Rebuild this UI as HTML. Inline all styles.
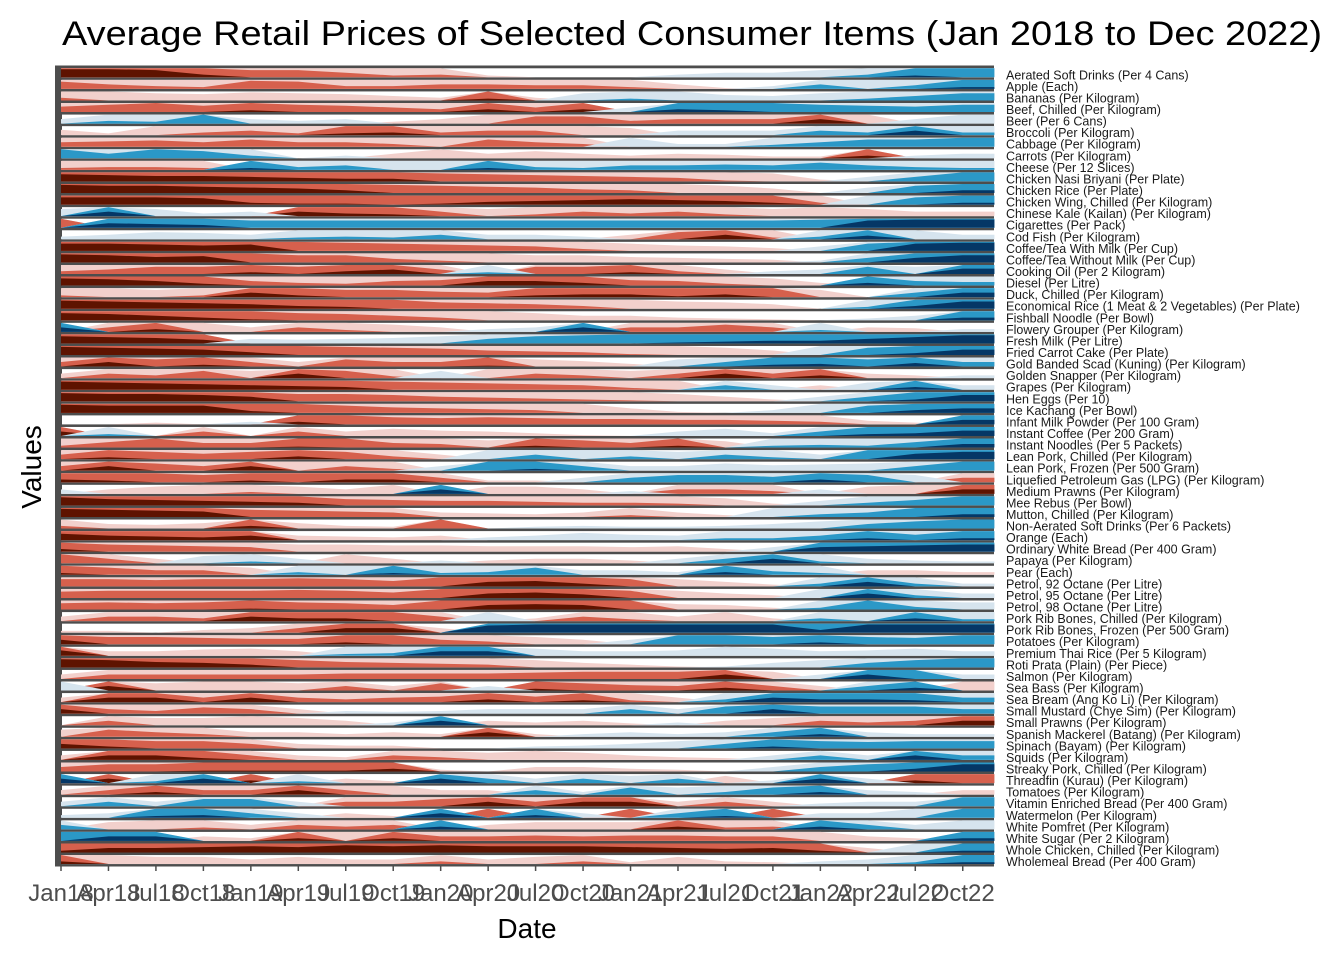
<!DOCTYPE html>
<html><head><meta charset="utf-8"><style>
html,body{margin:0;padding:0;background:#fff;}
svg{display:block;font-family:"Liberation Sans",Arial,sans-serif;}
</style></head><body>
<svg id="chart" width="1344" height="960" viewBox="0 0 1344 960" xmlns="http://www.w3.org/2000/svg">
<rect x="0" y="0" width="1344" height="960" fill="#fff"/>
<text x="62" y="45" font-size="34" fill="#000" textLength="1260" lengthAdjust="spacingAndGlyphs">Average Retail Prices of Selected Consumer Items (Jan 2018 to Dec 2022)</text>
<text x="0" y="0" font-size="28" fill="#000" text-anchor="middle" transform="translate(41,467) rotate(-90)">Values</text>
<text x="527" y="938" font-size="28" fill="#000" text-anchor="middle">Date</text>
<g id="plot"></g>
<g id="xaxis"></g>
<g id="labels"></g>
</svg>
<script>
const rowNames = ["Aerated Soft Drinks (Per 4 Cans)","Apple (Each)","Bananas (Per Kilogram)","Beef, Chilled (Per Kilogram)","Beer (Per 6 Cans)","Broccoli (Per Kilogram)","Cabbage (Per Kilogram)","Carrots (Per Kilogram)","Cheese (Per 12 Slices)","Chicken Nasi Briyani (Per Plate)","Chicken Rice (Per Plate)","Chicken Wing, Chilled (Per Kilogram)","Chinese Kale (Kailan) (Per Kilogram)","Cigarettes (Per Pack)","Cod Fish (Per Kilogram)","Coffee/Tea With Milk (Per Cup)","Coffee/Tea Without Milk (Per Cup)","Cooking Oil (Per 2 Kilogram)","Diesel (Per Litre)","Duck, Chilled (Per Kilogram)","Economical Rice (1 Meat & 2 Vegetables) (Per Plate)","Fishball Noodle (Per Bowl)","Flowery Grouper (Per Kilogram)","Fresh Milk (Per Litre)","Fried Carrot Cake (Per Plate)","Gold Banded Scad (Kuning) (Per Kilogram)","Golden Snapper (Per Kilogram)","Grapes (Per Kilogram)","Hen Eggs (Per 10)","Ice Kachang (Per Bowl)","Infant Milk Powder (Per 100 Gram)","Instant Coffee (Per 200 Gram)","Instant Noodles (Per 5 Packets)","Lean Pork, Chilled (Per Kilogram)","Lean Pork, Frozen (Per 500 Gram)","Liquefied Petroleum Gas (LPG) (Per Kilogram)","Medium Prawns (Per Kilogram)","Mee Rebus (Per Bowl)","Mutton, Chilled (Per Kilogram)","Non-Aerated Soft Drinks (Per 6 Packets)","Orange (Each)","Ordinary White Bread (Per 400 Gram)","Papaya (Per Kilogram)","Pear (Each)","Petrol, 92 Octane (Per Litre)","Petrol, 95 Octane (Per Litre)","Petrol, 98 Octane (Per Litre)","Pork Rib Bones, Chilled (Per Kilogram)","Pork Rib Bones, Frozen (Per 500 Gram)","Potatoes (Per Kilogram)","Premium Thai Rice (Per 5 Kilogram)","Roti Prata (Plain) (Per Piece)","Salmon (Per Kilogram)","Sea Bass (Per Kilogram)","Sea Bream (Ang Ko Li) (Per Kilogram)","Small Mustard (Chye Sim) (Per Kilogram)","Small Prawns (Per Kilogram)","Spanish Mackerel (Batang) (Per Kilogram)","Spinach (Bayam) (Per Kilogram)","Squids (Per Kilogram)","Streaky Pork, Chilled (Per Kilogram)","Threadfin (Kurau) (Per Kilogram)","Tomatoes (Per Kilogram)","Vitamin Enriched Bread (Per 400 Gram)","Watermelon (Per Kilogram)","White Pomfret (Per Kilogram)","White Sugar (Per 2 Kilogram)","Whole Chicken, Chilled (Per Kilogram)","Wholemeal Bread (Per 400 Gram)"];
const tickLabels = ["Jan18","Apr18","Jul18","Oct18","Jan19","Apr19","Jul19","Oct19","Jan20","Apr20","Jul20","Oct20","Jan21","Apr21","Jul21","Oct21","Jan22","Apr22","Jul22","Oct22"];
const s00=[2.9,2.9,2.8,2.3,1.8,1.8,1.5,1.2,1.3,0.2,0,0,0,-0.3,-0.5,-0.5,-0.8,-1.3,-2.2,-2.0];
const s01=[1.8,1.5,1.3,1.2,1.9,1.8,1.3,1.3,1.5,1.5,1.4,1.4,1.2,0.5,0.1,-0.3,-1.5,-1.0,-1.4,-2.2];
const s02=[1.3,1.0,0.8,0.7,0.9,0.8,0.7,0.5,0.3,2.2,0.3,-0.8,-1.2,-1.0,-0.6,-0.5,-0.8,-1.2,-1.5,-1.8];
const s03=[1.6,1.8,2.0,1.7,2.2,1.8,1.7,1.5,1.3,2.3,1.5,2.3,-0.5,-2.3,-2.2,-2.0,-1.8,-1.7,-1.6,-1.8];
const s04=[-0.5,-1.3,-1.2,-2.0,-0.5,-0.3,-0.5,0.2,0.5,1.0,1.8,1.8,1.3,1.5,1.5,1.5,2.5,1.0,-0.5,-1.0];
const s05=[0.6,0.2,1.0,1.3,1.5,1.2,2.2,2.3,1.3,1.5,1.5,1.0,0.8,-0.5,-0.5,-0.5,-1.5,-1.3,-2.5,-1.3];
const s06=[1.5,1.6,1.7,1.5,1.8,1.5,1.5,1.3,1.0,1.8,1.5,1.3,-1.0,-0.3,-0.3,-1.2,-1.5,-1.8,-1.8,-2.0];
const s07=[-2.0,-1.5,-2.0,-1.8,-1.3,0,-0.3,0.5,1.0,0.5,0.8,0.5,0.3,0.5,0.4,0.2,0.2,2.3,-0.3,-0.5];
const s08=[1.2,1.3,1.3,1.2,-2.2,-1.3,-1.5,-1.0,-1.0,-2.2,-1.3,-1.2,-1.5,-1.5,-1.6,-1.5,-1.8,-1.5,-1.3,-1.2];
const s09=[2.8,2.7,2.6,2.6,2.5,2.4,2.3,2.3,1.9,1.8,1.7,1.6,1.5,1.4,1.1,0.9,0.2,-0.5,-1.5,-2.0];
const s10=[2.9,2.8,2.8,2.7,2.6,2.5,2.3,1.9,1.8,1.7,1.6,1.4,1.3,1.0,0.8,0.5,0,-0.6,-1.8,-2.3];
const s11=[2.8,2.8,2.8,2.7,2.2,2.1,2.1,2.0,2.1,2.3,2.4,2.5,2.6,2.5,2.4,2.2,1.2,-1.0,-1.8,-2.2];
const s12=[-0.8,-2.5,-0.8,-0.3,-0.5,2.5,2.3,2.2,1.5,0.8,1.2,1.5,1.3,1.5,1.2,0.8,1.0,0.8,0.5,0.5];
const s13=[2.0,-2.5,-2.4,-2.3,-1.8,-1.8,-1.8,-1.8,-1.8,-1.8,-1.8,-1.8,-1.8,-1.8,-1.8,-1.8,-1.9,-2.8,-2.9,-2.9];
const s14=[-0.3,-0.5,-0.8,-0.7,-0.5,-1.2,-1.3,-1.2,-1.5,-0.5,-0.5,-0.3,0.5,1.8,2.5,1.2,-1.3,-2.4,-1.0,-0.5];
const s15=[2.8,2.8,2.7,2.6,2.7,2.0,1.9,1.8,1.7,1.6,1.5,1.2,0.8,0.6,0.5,0.3,-0.5,-1.8,-2.8,-2.9];
const s16=[2.9,2.8,2.6,2.7,2.0,1.8,1.8,1.4,1.2,1.0,0.8,0.8,0.6,0.5,0.4,0.3,-0.2,-1.5,-2.5,-2.8];
const s17=[1.3,1.5,1.8,1.8,2.2,1.8,2.3,2.5,1.5,-1.2,1.8,1.8,2.2,1.3,0.5,-0.3,-0.5,-1.8,-0.8,-2.6];
const s18=[2.8,2.7,2.5,2.2,1.5,1.3,1.2,1.5,1.6,2.5,2.5,2.3,1.6,1.5,1.2,0.8,0.3,-2.3,-1.5,-1.4];
const s19=[1.2,1.0,0.8,1.2,2.5,2.2,1.8,1.8,1.6,1.5,2.2,2.3,2.3,2.1,2.3,2.0,0.8,0,-1.5,-2.5];
const s20=[2.9,2.8,2.7,2.6,2.5,2.3,2.2,2.0,1.7,1.6,1.5,1.3,1.0,0.8,0.7,0.5,0,-1.2,-2.3,-2.8];
const s21=[2.8,2.7,2.5,2.3,2.1,1.8,1.7,1.5,1.3,1.0,0.8,0.5,0.5,0.3,0.2,0.1,0,-0.2,-0.5,-2.3];
const s22=[-2.5,1.5,2.3,1.0,0.5,1.5,1.2,0.8,0.5,-0.3,-0.5,-2.5,1.5,1.5,1.8,1.5,-1.2,0.5,0.4,-0.3];
const s23=[2.8,2.7,2.6,2.4,-0.5,-0.4,-0.5,-0.6,-0.8,-1.5,-1.8,-1.9,-2.0,-2.1,-2.2,-2.3,-2.3,-2.5,-2.7,-2.9];
const s24=[2.9,2.8,2.7,2.6,2.3,2.0,1.9,1.8,1.7,1.5,1.4,1.3,1.1,1.0,0.8,0.5,-1.0,-1.8,-2.2,-2.6];
const s25=[1.5,2.5,1.8,2.2,1.5,0.5,1.8,1.5,1.5,2.1,0.8,0.6,0.3,-0.8,-1.5,-2.2,-2.3,-1.8,-2.4,-1.5];
const s26=[0.5,1.5,1.3,1.8,0.8,2.5,1.8,1.2,-0.8,1.0,1.5,1.3,0.8,1.5,2.5,1.5,2.3,0.5,0.3,-0.3];
const s27=[2.9,2.8,2.7,2.6,2.5,2.4,2.3,1.9,1.8,1.7,1.6,1.5,1.2,1.0,-1.5,-0.5,0.5,-0.8,-2.3,-0.5];
const s28=[2.9,2.8,2.8,2.7,2.5,1.8,1.8,1.7,1.5,1.4,1.3,1.2,1.1,0.8,0.5,0.2,-0.5,-1.5,-2.2,-2.7];
const s29=[2.9,2.8,2.8,2.8,2.2,2.0,1.8,1.6,1.5,1.4,1.3,1.0,0.5,0.1,0,-0.3,-1.0,-1.8,-2.3,-2.5];
const s30=[0,0,0.2,0,-0.3,2.3,2.0,1.8,1.7,1.8,1.7,1.6,1.6,1.5,1.5,1.4,1.3,0.4,0.2,-2.5];
const s31=[2.5,-1.2,0,1.5,0,1.5,0.5,0.8,0.6,0.5,0.3,0.1,0,-0.5,-0.8,-0.3,-1.5,-2.2,-2.3,-2.6];
const s32=[1.2,1.6,2.0,1.5,1.5,2.1,2.0,1.5,1.4,0.8,2.2,1.8,1.5,2.2,0.7,-1.2,-1.3,-1.2,-1.6,-2.4];
const s33=[1.5,2.2,1.8,1.6,1.8,2.3,1.8,1.3,0.5,-1.0,-1.5,-1.0,-1.3,-0.8,-1.5,-1.2,-0.5,-2.0,-2.6,-2.8];
const s34=[1.5,2.5,1.8,1.5,2.5,1.0,1.5,1.2,-0.5,-2.0,-2.2,-1.5,-0.5,-0.5,-0.8,-0.6,-0.7,-0.8,-1.5,-2.0];
const s35=[2.3,2.2,2.0,1.8,2.2,2.0,2.3,2.3,1.5,0.2,0.2,-0.5,-1.5,-1.8,-1.8,-1.6,-2.3,-1.8,-0.8,1.5];
const s36=[-0.5,0.5,0.8,1.0,1.2,0.8,0.5,1.0,-2.5,0.8,0.8,0.5,-0.3,1.5,1.5,1.3,-0.5,0.8,1.0,2.5];
const s37=[2.9,2.7,2.6,2.5,2.4,2.3,1.7,1.6,1.5,1.5,1.4,1.3,1.3,1.2,0.8,0.2,-0.5,-1.3,-1.6,-2.0];
const s38=[2.9,2.8,2.7,2.6,1.8,1.7,1.6,1.5,0.5,0.4,0.3,0.5,1.2,0.5,0.2,-1.0,-1.3,-1.5,-2.0,-2.3];
const s39=[1.3,0.5,0.4,0.6,2.3,0.6,0.3,0.2,2.0,0,-0.2,-0.3,-0.2,-0.2,-0.3,-0.5,-0.8,-1.5,-1.8,-2.0];
const s40=[2.7,2.5,2.4,2.3,2.5,0.5,0.4,0.3,0.5,-0.3,-0.5,-0.8,-0.6,-0.5,-1.2,-1.2,-1.5,-2.2,-1.6,-2.2];
const s41=[2.3,1.8,1.7,1.6,1.5,0.8,0.8,0.7,0.7,0.6,0.6,0.6,0.5,0.6,0.3,-0.5,-2.5,-2.6,-2.7,-2.8];
const s42=[2.0,1.5,0.5,-0.8,-1.2,-0.5,1.0,0.5,-0.3,0.3,0.5,0.5,0.3,-0.5,-1.5,-2.5,-1.2,-0.5,-0.3,-0.2];
const s43=[2.2,1.8,1.5,1.5,0.8,-1.3,-1.0,-2.2,-1.2,-1.3,-1.8,-0.5,-0.5,-0.3,-2.3,-1.4,-1.2,0.5,0.5,0.3];
const s44=[1.8,1.8,1.7,1.8,1.8,1.9,1.8,1.6,2.0,2.5,2.6,2.3,1.8,0.8,0.5,0.2,-1.3,-2.5,-1.3,-0.3];
const s45=[1.7,1.8,1.8,1.8,1.8,1.9,1.8,1.6,2.0,2.5,2.6,2.4,1.8,0.8,0.5,0.3,-1.0,-2.5,-1.3,-0.5];
const s46=[1.7,1.8,1.7,1.8,2.1,1.8,1.7,1.5,2.0,2.5,2.6,2.5,2.0,0.6,0.5,0.2,-1.2,-2.0,-1.3,-0.8];
const s47=[0.5,1.5,1.5,1.3,2.5,2.3,2.3,2.0,1.5,-1.0,0.3,1.5,1.2,0.5,1.0,0.3,-1.3,-1.0,-2.3,-1.2];
const s48=[0.2,0.2,0,0.3,0.5,1.5,2.5,2.5,0.5,-2.8,-2.9,-2.9,-2.9,-2.9,-2.9,-2.9,-2.3,-2.9,-2.9,-2.9];
const s49=[2.5,1.8,1.8,1.7,1.6,1.6,2.2,2.0,1.5,1.3,0.8,0.5,-0.5,-2.0,-2.0,-1.8,-2.2,-1.8,-1.7,-2.0];
const s50=[2.6,0.5,0.5,0.7,0.8,0.5,-1.2,-1.3,-2.5,-2.5,-0.8,-0.5,-0.5,-0.6,-1.0,-0.8,-0.5,-0.6,-0.8,-0.5];
const s51=[2.9,2.8,2.6,2.5,2.3,1.8,1.6,1.5,1.4,1.3,0.8,0.5,0.3,0.1,-0.1,-0.5,-0.8,-1.5,-1.8,-2.0];
const s52=[0.5,1.5,1.5,1.5,1.5,1.5,1.6,1.6,1.6,1.6,1.7,1.8,1.8,1.8,2.5,0.8,-0.5,-2.5,-2.0,-0.5];
const s53=[-1.0,2.5,0.8,1.0,1.0,0.8,1.5,0.5,1.8,-0.5,2.2,1.8,1.6,1.5,2.3,1.5,0.5,-1.5,-2.3,1.0];
const s54=[0.5,2.5,2.5,1.5,2.5,1.5,1.3,1.5,1.6,2.3,1.6,2.2,1.2,0.5,-1.3,-2.5,-2.3,-2.3,-2.2,-1.5];
const s55=[2.5,1.5,1.3,1.7,1.5,0.5,-0.3,-0.2,-0.3,-0.5,-0.5,-0.5,-1.5,-0.5,-1.8,-2.5,-1.8,-1.8,-1.8,-1.5];
const s56=[0,1.5,0.8,0.8,1.0,0.8,0.5,-0.3,-2.5,0.5,0.3,0.5,0.2,-0.3,0.5,0.8,1.5,1.3,1.5,2.5];
const s57=[0.8,1.8,1.5,1.3,0.5,0.5,0.3,0.5,0.3,2.5,0.3,-0.3,-0.5,-0.3,-0.5,-1.5,-2.3,-0.5,-0.3,-0.3];
const s58=[2.5,2.2,1.8,1.8,1.5,0.5,0.3,0.3,0,0,-0.2,-0.3,-0.5,-0.8,-1.5,-2.2,-1.8,-1.7,-1.8,-1.8];
const s59=[0.5,2.5,2.5,2.2,1.5,0.5,0.3,1.5,1.3,0.8,1.0,0.8,0.5,0.3,0.2,-0.5,-1.5,-0.5,-2.5,-1.5];
const s60=[1.5,1.8,1.8,2.1,2.1,2.1,2.1,2.3,0.2,0,0.5,0.5,0.3,0.2,0,-0.5,-1.5,-1.8,-2.3,-2.8];
const s61=[-2.5,2.5,-1.2,-2.5,2.3,-1.2,0.5,0.2,-2.5,-1.5,-0.5,-1.5,-0.8,-1.5,0.8,-0.3,-2.5,-0.5,2.3,2.0];
const s62=[0.5,1.5,2.3,1.5,1.5,2.5,1.5,1.0,0.5,0.5,-1.5,-0.3,-1.8,-0.8,-1.3,-1.8,-2.3,-0.5,-0.3,0.5];
const s63=[-0.5,-1.5,-0.5,-1.8,-1.8,-0.5,1.5,1.5,1.8,2.5,1.5,2.5,2.5,0.5,1.5,0.5,-0.3,-0.5,-0.5,-2.0];
const s64=[-0.3,-0.5,-2.2,-2.3,-1.5,-0.5,0.5,0.2,-2.5,2.0,-2.3,-0.5,2.0,-1.5,-2.2,2.0,-0.5,-0.5,-1.0,-2.0];
const s65=[-1.5,0.8,1.0,1.2,0.5,1.5,1.3,1.5,-2.3,0.5,0.8,0.8,0.8,2.3,1.2,1.3,-2.3,-1.5,-0.5,-1.0];
const s66=[-2.0,-2.5,-2.5,0.5,0.3,2.3,1.0,2.3,1.5,1.5,1.6,1.5,1.6,1.6,1.5,1.5,1.0,0.5,0.3,-2.3];
const s67=[2.2,2.5,2.5,2.6,2.7,2.6,2.8,2.7,2.8,2.7,2.7,2.7,2.6,2.5,2.4,2.5,2.2,0.5,-1.0,-2.2];
const s68=[2.3,1.0,0.8,0.8,0.5,0.8,0.5,0.5,1.3,0.5,0.8,1.3,0.2,0.8,0.3,0.2,-0.3,-0.5,-1.2,-2.2];
const series=[s00,s01,s02,s03,s04,s05,s06,s07,s08,s09,s10,s11,s12,s13,s14,s15,s16,s17,s18,s19,s20,s21,s22,s23,s24,s25,s26,s27,s28,s29,s30,s31,s32,s33,s34,s35,s36,s37,s38,s39,s40,s41,s42,s43,s44,s45,s46,s47,s48,s49,s50,s51,s52,s53,s54,s55,s56,s57,s58,s59,s60,s61,s62,s63,s64,s65,s66,s67,s68];

const NS="http://www.w3.org/2000/svg";
const X0=61, MONTH=15.82, TOP=68.3, ROWH=11.57, BANDH=9.0;
const posCols=["#f2d0cc","#d6604d","#5e1300"];
const negCols=["#d6e4ee","#2b98c7","#053766"];
const xScale=m=>X0+m*MONTH;
const rowTop=i=>TOP+i*ROWH;
function mk(tag,attrs,parent){const e=document.createElementNS(NS,tag);for(const k in attrs)e.setAttribute(k,attrs[k]);parent.appendChild(e);return e;}
const plot=document.getElementById('plot');
const bg=mk('rect',{x:55,y:65.5,width:939,height:801,fill:'#4d4d4d'},plot);


series.forEach((vals,i)=>{
  const y0=rowTop(i), yb=y0+BANDH;
  const g=mk('g',{},plot);
  
  
  mk('rect',{x:62,y:y0,width:932,height:BANDH,fill:'#fff'},g);
  const pts=vals.map((v,j)=>[xScale(j*3),v]);
  pts.push([xScale(59),vals[vals.length-1]]);
  [1,-1].forEach(sign=>{
    const cols=sign>0?posCols:negCols;
    for(let k=0;k<3;k++){
      let d='M'+xScale(0).toFixed(1)+','+yb;
      pts.forEach(p=>{const a=Math.max(0,Math.min(1,sign*p[1]-k));d+=' L'+p[0].toFixed(1)+','+(yb-a*BANDH).toFixed(2);});
      d+=' L'+xScale(59).toFixed(1)+','+yb+' Z';
      const p=mk('path',{d:d,fill:cols[k]},g);
      
      
    }
  });
  const lb=mk('text',{x:1006,y:(y0+BANDH/2+6.5).toFixed(1),'font-size':12.5,fill:'#1a1a1a'},document.getElementById('labels'));
  lb.textContent=rowNames[i];
  
  
});
const xa=document.getElementById('xaxis');
tickLabels.forEach((t,j)=>{
  const x=xScale(j*3);
  const tk=mk('line',{x1:x,x2:x,y1:866.5,y2:871,stroke:'#4d4d4d','stroke-width':1.5},xa);
  
  
  const tx=mk('text',{x:x,y:901,'font-size':24,fill:'#4d4d4d','text-anchor':'middle'},xa);
  tx.textContent=t;
  
  
});
</script>
</body></html>
